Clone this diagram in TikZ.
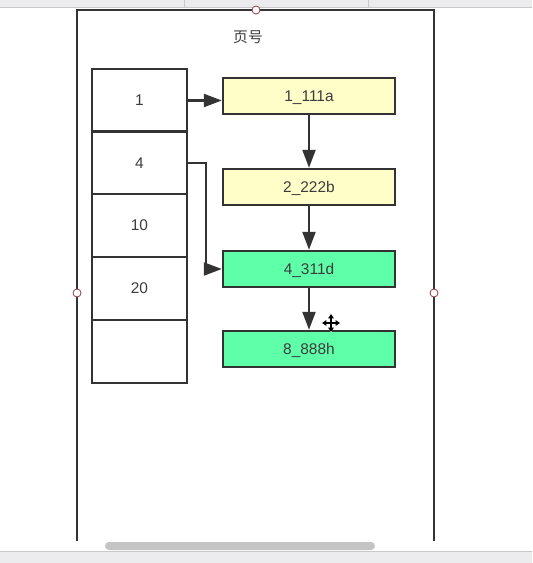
\documentclass[tikz,border=0pt]{standalone}
\usepackage{fontspec}
\setmainfont{Liberation Sans}
\newfontfamily\cjk{Noto Sans CJK SC}
\usetikzlibrary{arrows.meta,positioning}
\definecolor{pageyellow}{HTML}{FFFDC8}
\definecolor{pagegreen}{HTML}{5EFFA8}
\definecolor{inkgrey}{HTML}{333333}
\definecolor{textgrey}{HTML}{3C3C3C}
\definecolor{barback}{HTML}{ECECEE}
\definecolor{barline}{HTML}{C8C8CA}
\definecolor{handlered}{HTML}{8E3B46}
\definecolor{scrollgrey}{HTML}{C4C4C4}

\begin{document}
\begin{tikzpicture}[x=0.5mm,y=-0.5mm,
  cell/.style={draw=inkgrey,line width=1.2mm,fill=white,minimum width=47.5mm,minimum height=31.5mm,inner sep=0pt,text depth=0pt,text=textgrey,font=\fontsize{22}{26}\selectfont},
  pagebox/.style={draw=inkgrey,line width=1.2mm,minimum width=86mm,minimum height=18mm,inner sep=0pt,text depth=0pt,text=textgrey,font=\fontsize{22}{26}\selectfont},
  link/.style={draw=inkgrey,line width=1.1mm,-{Triangle[length=9mm,width=6.5mm]}},
  handle/.style={circle,draw=handlered,fill=white,line width=0.4mm,minimum size=4mm,inner sep=0pt}]
\useasboundingbox (0,0) rectangle (532,563);
\fill[white] (0,0) rectangle (532,563);
% window bars
\fill[barback] (0,0) rectangle (532,7);
\draw[barline,line width=0.4mm] (0,7) -- (532,7);
\draw[barline,line width=0.4mm] (184,0) -- (184,7);
\draw[barline,line width=0.4mm] (368,0) -- (368,7);
\fill[barback] (0,552) rectangle (532,563);
\draw[barline,line width=0.5mm] (0,551.5) -- (532,551.5);
\fill[scrollgrey,rounded corners=2mm] (105,542) rectangle (375,550);
% frame
\draw[inkgrey,line width=1.4mm] (77,541) -- (77,10) -- (434,10) -- (434,541);
\node[handle] (hTop) at (256,10) {};
\node[handle] (hLeft) at (77,293) {};
\node[handle] (hRight) at (434,293) {};
\node[text=textgrey,font=\cjk\fontsize{21}{25}\selectfont] (title) at (248,37) {页号};
% index column
\node[cell] (c1) at (139.5,100.5) {1};
\node[cell] (c4) at (139.5,163) {4};
\node[cell] (c10) at (139.5,225.5) {10};
\node[cell] (c20) at (139.5,288.5) {20};
\node[cell] (cEmpty) at (139.5,351.5) {};
% pages
\node[pagebox,fill=pageyellow] (p1) at (309,96) {1\_111a};
\node[pagebox,fill=pageyellow] (p2) at (309,187) {2\_222b};
\node[pagebox,fill=pagegreen] (p4) at (309,269) {4\_311d};
\node[pagebox,fill=pagegreen] (p8) at (309,349) {8\_888h};
% links
\draw[link] (c1.east) -- (c1.east -| p1.west);
\draw[link] (c4.east) -- ++(18,0) |- (p4.west);
\draw[link] (p1) -- (p2);
\draw[link] (p2) -- (p4);
\draw[link] (p4) -- (p8);
% cursor
\draw[white,line width=1.4mm] (322,323) -- (340,323) (331,314) -- (331,332);
\draw[black,line width=0.6mm,{Triangle[length=2.2mm,width=2.8mm]}-{Triangle[length=2.2mm,width=2.8mm]}] (322,323) -- (340,323);
\draw[black,line width=0.6mm,{Triangle[length=2.2mm,width=2.8mm]}-{Triangle[length=2.2mm,width=2.8mm]}] (331,314) -- (331,332);
\end{tikzpicture}
\end{document}
